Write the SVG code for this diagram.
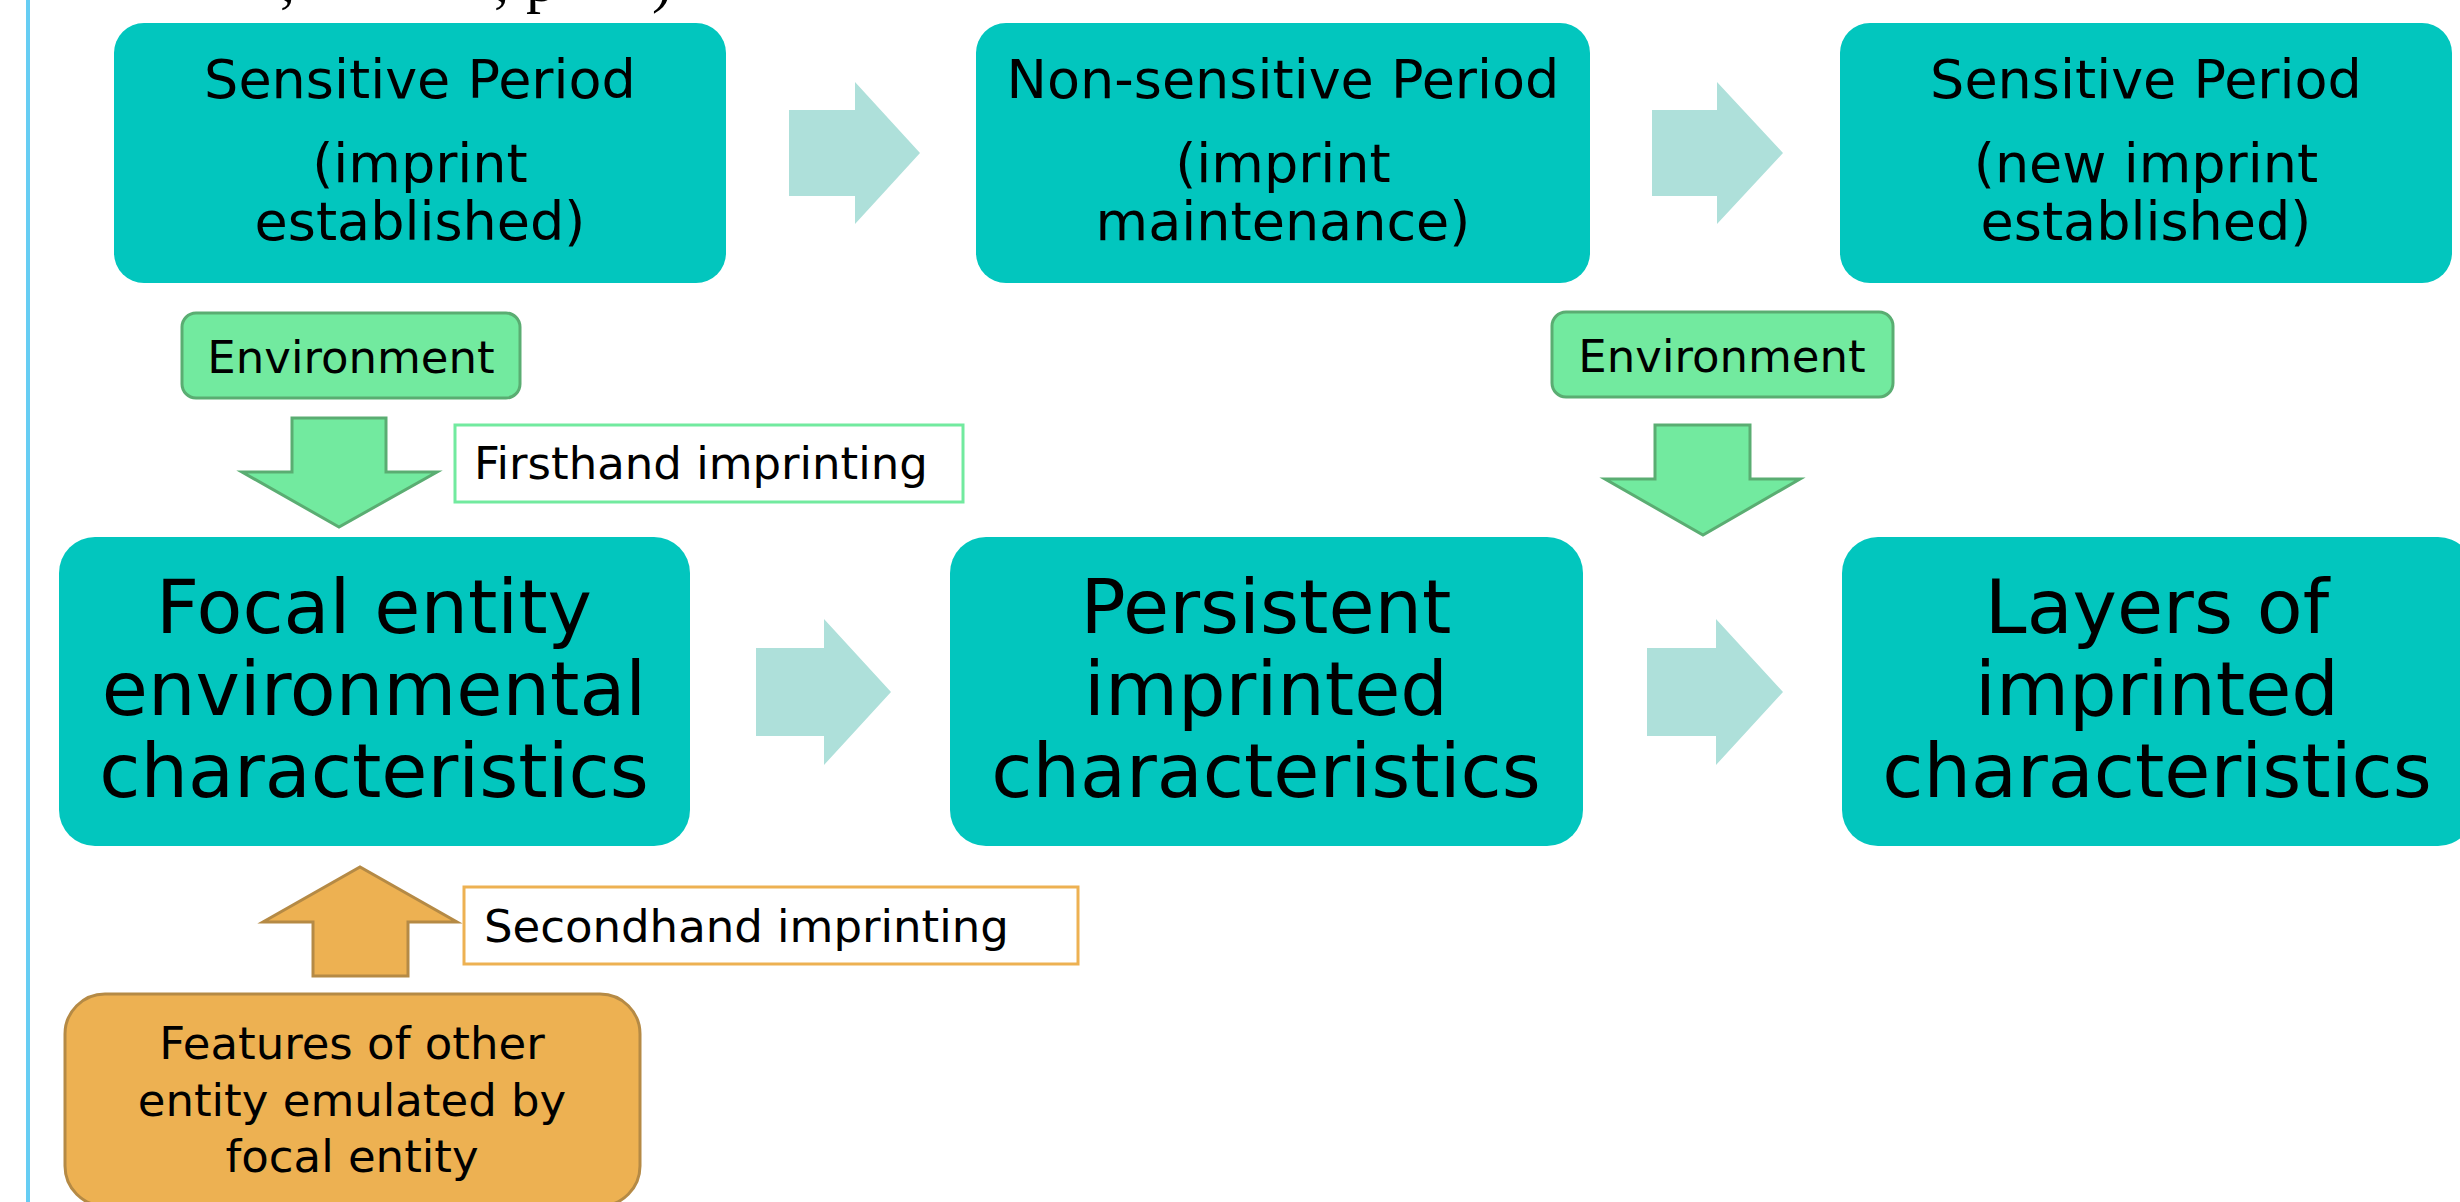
<svg xmlns="http://www.w3.org/2000/svg" width="2460" height="1202" viewBox="0 0 2460 1202">
<style>
  .teal { fill: #02c6be; }
  .flow { fill: #aee0da; }
  .green { fill: #72ea9f; stroke: #5aad72; stroke-width: 3; }
  .orange { fill: #edb152; stroke: #b58a45; stroke-width: 3; }
  .lbl-g { fill: #ffffff; stroke: #72ea9f; stroke-width: 3; }
  .lbl-o { fill: #ffffff; stroke: #edb152; stroke-width: 3; }
  text { font-family: "DejaVu Sans", "Liberation Sans", sans-serif; fill: #000000; }
  .t54 { font-size: 54px; text-anchor: middle; }
  .t75 { font-size: 75px; text-anchor: middle; }
  .t45 { font-size: 45px; }
  .c { text-anchor: middle; }
  .cite { font-family: "Liberation Serif", serif; font-size: 60px; }
</style>
<rect x="0" y="0" width="2460" height="1202" fill="#ffffff"/>
<rect x="26" y="0" width="4" height="1202" fill="#66cdf3"/>
<text class="cite" y="1"><tspan x="280">,</tspan><tspan x="494">,</tspan><tspan x="526">p</tspan><tspan x="652">)</tspan></text>

<g id="connectors">
  <polygon class="flow" points="789,110 855,110 855,82 920,153 855,224 855,196 789,196"/>
  <polygon class="flow" points="1652,110 1717,110 1717,82 1783,153 1717,224 1717,196 1652,196"/>
  <polygon class="flow" points="756,648 824,648 824,619 891,692 824,765 824,736 756,736"/>
  <polygon class="flow" points="1647,648 1716,648 1716,619 1783,692 1716,765 1716,736 1647,736"/>
  <polygon class="green" points="292,418 386,418 386,472 437,472 339,527 242,472 292,472"/>
  <polygon class="green" points="1655,425 1750,425 1750,479 1800,479 1703,535 1605,479 1655,479"/>
  <polygon class="orange" points="313,976 408,976 408,922 457,922 360,867 263,922 313,922"/>
</g>

<g id="sensitive1">
  <rect class="teal" x="114" y="23" width="612" height="260" rx="30"/>
  <text class="t54" x="420" y="98">Sensitive Period</text>
  <text class="t54" x="420" y="182">(imprint</text>
  <text class="t54" x="420" y="240">established)</text>
</g>
<g id="nonsensitive">
  <rect class="teal" x="976" y="23" width="614" height="260" rx="30"/>
  <text class="t54" x="1283" y="98">Non-sensitive Period</text>
  <text class="t54" x="1283" y="182">(imprint</text>
  <text class="t54" x="1283" y="240">maintenance)</text>
</g>
<g id="sensitive2">
  <rect class="teal" x="1840" y="23" width="612" height="260" rx="30"/>
  <text class="t54" x="2146" y="98">Sensitive Period</text>
  <text class="t54" x="2146" y="182">(new imprint</text>
  <text class="t54" x="2146" y="240">established)</text>
</g>

<g id="environment1">
  <rect class="green" x="182" y="313" width="338" height="85" rx="14"/>
  <text class="t45 c" x="351" y="373">Environment</text>
</g>
<g id="environment2">
  <rect class="green" x="1552" y="312" width="341" height="85" rx="14"/>
  <text class="t45 c" x="1722" y="372">Environment</text>
</g>

<g id="firsthand">
  <rect class="lbl-g" x="455" y="425" width="508" height="77"/>
  <text class="t45" x="474" y="479">Firsthand imprinting</text>
</g>

<g id="focal">
  <rect class="teal" x="59" y="537" width="631" height="309" rx="36"/>
  <text class="t75" x="374" y="633">Focal entity</text>
  <text class="t75" x="374" y="715">environmental</text>
  <text class="t75" x="374" y="797">characteristics</text>
</g>
<g id="persistent">
  <rect class="teal" x="950" y="537" width="633" height="309" rx="36"/>
  <text class="t75" x="1266" y="633">Persistent</text>
  <text class="t75" x="1266" y="715">imprinted</text>
  <text class="t75" x="1266" y="797">characteristics</text>
</g>
<g id="layers">
  <rect class="teal" x="1842" y="537" width="632" height="309" rx="36"/>
  <text class="t75" x="2157" y="633">Layers of</text>
  <text class="t75" x="2157" y="715">imprinted</text>
  <text class="t75" x="2157" y="797">characteristics</text>
</g>

<g id="secondhand">
  <rect class="lbl-o" x="464" y="887" width="614" height="77"/>
  <text class="t45" x="484" y="942">Secondhand imprinting</text>
</g>

<g id="features">
  <rect class="orange" x="65" y="994" width="575" height="212" rx="40"/>
  <text class="t45 c" x="352" y="1059">Features of other</text>
  <text class="t45 c" x="352" y="1116">entity emulated by</text>
  <text class="t45 c" x="352" y="1172">focal entity</text>
</g>
</svg>
